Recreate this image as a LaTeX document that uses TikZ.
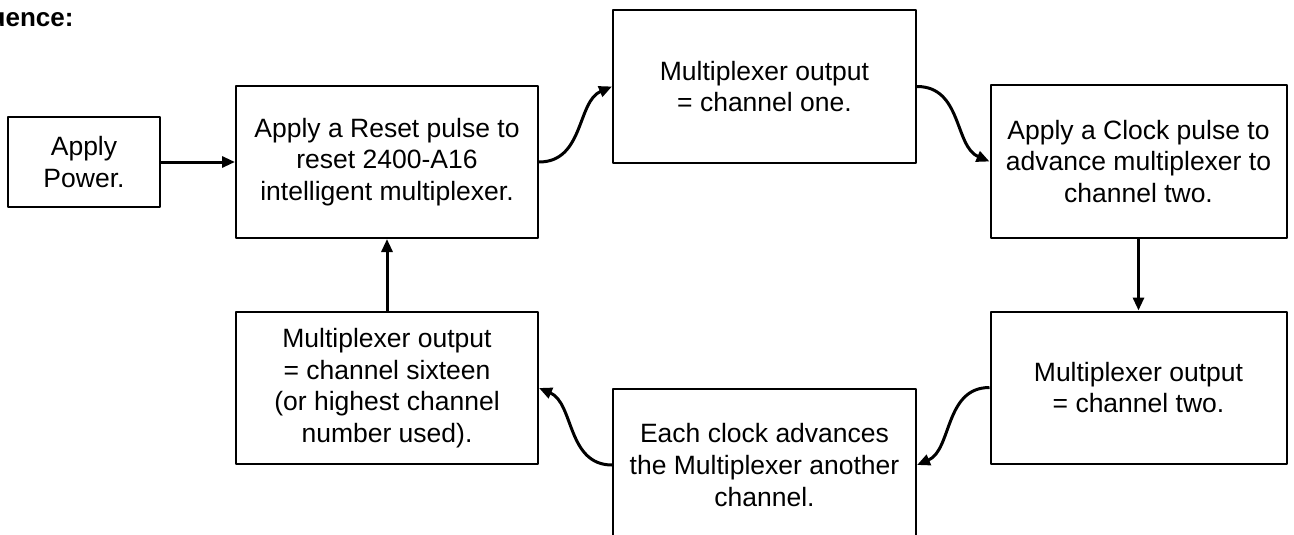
\documentclass[tikz,border=0pt]{standalone}
\usepackage{fontspec}
\setmainfont{Liberation Sans}
\usetikzlibrary{arrows.meta}

\tikzset{
	box/.style = {draw, line width = 2pt, align = center, inner sep = 0pt,
		minimum width = 302pt, minimum height = 152pt,
		font = \fontsize{26.5}{31.7}\selectfont},
	flow/.style = {line width = 3pt, -{Triangle[length=13pt, width=11pt]}}
}

\begin{document}
\begin{tikzpicture}[x = 1pt, y = -1pt, line join=round]
		
		\useasboundingbox (0,0) rectangle (1294,535);
		
		\node[anchor = base east, font = \bfseries\fontsize{26}{31}\selectfont] (title) at (77,27) {uence:};
		
		\node[box, minimum width = 152pt, minimum height = 90pt] (power) at (84,162) {Apply\\Power.};
		\node[box] (reset) at (387,162) {Apply a Reset pulse to\\reset 2400-A16\\intelligent multiplexer.};
		\node[box, minimum width = 303pt] (one) at (764.5,86.5) {Multiplexer output\\= channel one.};
		\node[box, minimum width = 296pt] (clock) at (1138.5,161.5) {Apply a Clock pulse to\\advance multiplexer to\\channel two.};
		\node[box, minimum width = 296pt] (two) at (1138.5,387.5) {Multiplexer output\\= channel two.};
		\node[box, minimum width = 303pt] (each) at (764.5,465) {Each clock advances\\the Multiplexer another\\channel.};
		\node[box] (sixteen) at (387,388) {Multiplexer output\\= channel sixteen\\(or highest channel\\number used).};
		
		\draw[flow] (power) -- (reset);
		\draw[flow] (reset.east) .. controls +(45,0) and +(-35,15) .. (one.west);
		\draw[flow] (one.east) .. controls +(45,0) and +(-35,-15) .. (clock.west);
		\draw[flow] (clock) -- (two);
		\draw[flow] (two.west) .. controls +(-45,0) and +(35,-15) .. (each.east);
		\draw[flow] (each.west) .. controls +(-45,0) and +(35,15) .. (sixteen.east);
		\draw[flow] (sixteen) -- (reset);
		
\end{tikzpicture}
\end{document}
